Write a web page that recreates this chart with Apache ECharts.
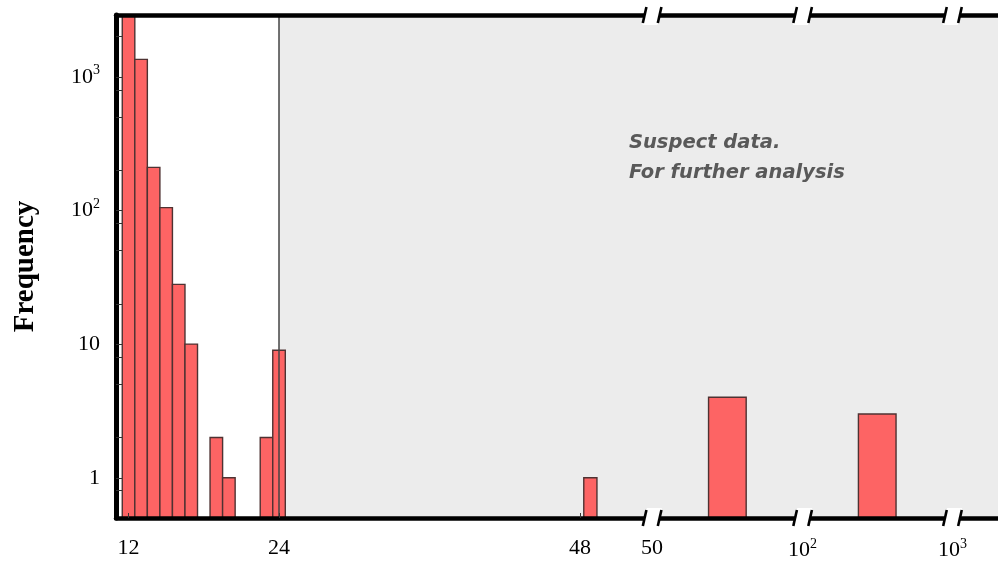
<!DOCTYPE html>
<html><head><meta charset="utf-8">
<script src="https://cdn.jsdelivr.net/npm/echarts@6/dist/echarts.min.js"></script>
<style>html,body{margin:0;padding:0;background:#fff}#c{width:998px;height:564px}</style>
</head><body><div id="c"></div>
<script>
// ---- data ----
// main histogram: bin centres (width 1) and counts (0 = empty bin)
const binCenters = [12, 13, 14, 15, 16, 17, 18, 19, 20, 21, 22, 23, 24];
const binCounts  = [3500, 1350, 210, 105, 28, 10, 0, 2, 1, 0, 0, 2, 9];
// bins beyond 24 / beyond the axis breaks (start, end in axis position units)
const tailStarts = [48.3, 58.25, 70.2];
const tailEnds   = [49.35, 61.25, 73.2];
const tailCounts = [1, 4, 3];
// axis breaks (axis position units)
const xBreaks = [53.75, 65.75, 77.7];
// tick labels
const xTickValues = [12, 24, 48, 53.75, 65.75, 77.7];
const xTickLabels = ['12', '24', '48', '50', '10^2', '10^3'];
const xTickMarks  = [12, 24, 48];
const yTickValues = [1, 10, 100, 1000];
const yTickLabels = ['1', '10', '10^2', '10^3'];
const yMinorTicks = [0.8, 2, 5, 8, 20, 50, 80, 200, 500, 800, 2000];
const suspectFrom = 24;
const annotationLines = ['Suspect data.', 'For further analysis'];
const annotationAt = [51.9, 414];
const xMin = 11, xMax = 81.33, yMin = 0.5, yMax = 2900;

// ---- build ----
const barData = [];
binCenters.forEach((c, i) => { if (binCounts[i] > 0) barData.push([c - 0.5, c + 0.5, binCounts[i]]); });
tailStarts.forEach((s, i) => barData.push([s, tailEnds[i], tailCounts[i]]));

function fmtPow(s) {
  const m = s.split('^');
  return m.length === 2 ? m[0] + '{sup|' + m[1] + '}' : s;
}
function nearestLabel(vals, labels, v) {
  let bi = 0, bd = Infinity;
  vals.forEach((x, i) => { const d = Math.abs(x - v); if (d < bd) { bd = d; bi = i; } });
  return bd < 1e-6 * Math.max(1, Math.abs(v)) + 1e-9 ? labels[bi] : '';
}
const serif = '"Liberation Serif", "DejaVu Serif", serif';

const chart = echarts.init(document.getElementById('c'), null, { renderer: 'canvas' });
chart.setOption({
  animation: false,
  backgroundColor: '#fff',
  grid: { left: 116, right: 0, top: 15, bottom: 46, containLabel: false },
  xAxis: [{
    type: 'value', min: xMin, max: xMax, position: 'bottom', z: 5,
    axisLine: { show: true, onZero: false, lineStyle: { color: '#000', width: 4.5 } },
    axisTick: { show: true, inside: true, length: 5, customValues: xTickMarks, lineStyle: { color: '#333', width: 1 } },
    axisLabel: {
      show: true, customValues: xTickValues, margin: 19,
      fontFamily: serif, fontSize: 22, color: '#000',
      formatter: v => fmtPow(nearestLabel(xTickValues, xTickLabels, v)),
      rich: { sup: { fontSize: 14, fontFamily: serif, color: '#000', padding: [0, 0, 12, 0] } }
    },
    splitLine: { show: false }
  }, {
    type: 'value', min: xMin, max: xMax, position: 'top', z: 5,
    axisLine: { show: true, onZero: false, lineStyle: { color: '#000', width: 4.5 } },
    axisTick: { show: false }, axisLabel: { show: false }, splitLine: { show: false }
  }],
  yAxis: {
    type: 'log', logBase: 10, min: yMin, max: yMax, z: 5,
    name: 'Frequency', nameLocation: 'middle', nameRotate: 90, nameGap: 76,
    nameTextStyle: { fontFamily: serif, fontWeight: 'bold', fontSize: 29, color: '#000' },
    axisLine: { show: true, onZero: false, lineStyle: { color: '#000', width: 5 } },
    axisTick: { show: true, inside: true, length: 6, customValues: yTickValues.concat(yMinorTicks), lineStyle: { color: '#333', width: 1 } },
    axisLabel: {
      show: true, customValues: yTickValues, margin: 16,
      fontFamily: serif, fontSize: 22, color: '#000',
      formatter: v => fmtPow(nearestLabel(yTickValues, yTickLabels, v)),
      rich: { sup: { fontSize: 14, fontFamily: serif, color: '#000', padding: [0, 0, 12, 0] } }
    },
    splitLine: { show: false }, minorTick: { show: false }
  },
  series: [{
    type: 'line', data: [], z: 1, silent: true,
    markArea: {
      silent: true,
      itemStyle: { color: '#ececec' },
      data: [[{ xAxis: suspectFrom }, { xAxis: xMax }]]
    },
    markLine: {
      silent: true, symbol: 'none', animation: false,
      lineStyle: { color: '#444', width: 1.5, type: 'solid' },
      label: { show: false },
      data: [{ xAxis: suspectFrom }]
    },
    markPoint: {
      silent: true, symbol: 'circle', symbolSize: 0,
      itemStyle: { color: 'transparent' },
      label: {
        show: true, position: [0, 0], align: 'left', verticalAlign: 'top',
        formatter: annotationLines.join('\n'),
        fontFamily: '"DejaVu Sans", Verdana, sans-serif', fontStyle: 'italic', fontWeight: 'bold',
        fontSize: 19.5, lineHeight: 30, color: '#595959'
      },
      data: [{ coord: annotationAt }]
    }
  }, {
    type: 'custom', z: 2, clip: true,
    encode: { x: [0, 1], y: 2 },
    data: barData,
    renderItem: (params, api) => {
      const p1 = api.coord([api.value(0), api.value(2)]);
      const p2 = api.coord([api.value(1), yMin]);
      return {
        type: 'rect',
        shape: { x: p1[0], y: p1[1], width: p2[0] - p1[0], height: p2[1] - p1[1] },
        style: { fill: '#fd6464', stroke: '#4e3232', lineWidth: 1.4 }
      };
    }
  }, {
    type: 'custom', z: 10, clip: false, silent: true,
    encode: { x: 0 },
    data: xBreaks.map(v => [v]),
    renderItem: (params, api) => {
      const cs = params.coordSys;
      const cx = api.coord([api.value(0), yMin])[0];
      const children = [];
      [cs.y, cs.y + cs.height].forEach(y => {
        children.push({
          type: 'polygon',
          shape: { points: [[cx - 7.5 + 2.2, y - 10], [cx + 7.5 + 2.2, y - 10], [cx + 7.5 - 2.2, y + 10], [cx - 7.5 - 2.2, y + 10]] },
          style: { fill: '#fff' }
        });
        [-7.5, 7.5].forEach(d => {
          children.push({
            type: 'line',
            shape: { x1: cx + d + 1.8, y1: y - 8, x2: cx + d - 1.8, y2: y + 8 },
            style: { stroke: '#000', lineWidth: 2.6 }
          });
        });
      });
      return { type: 'group', children };
    }
  }]
});
</script>
</body></html>
